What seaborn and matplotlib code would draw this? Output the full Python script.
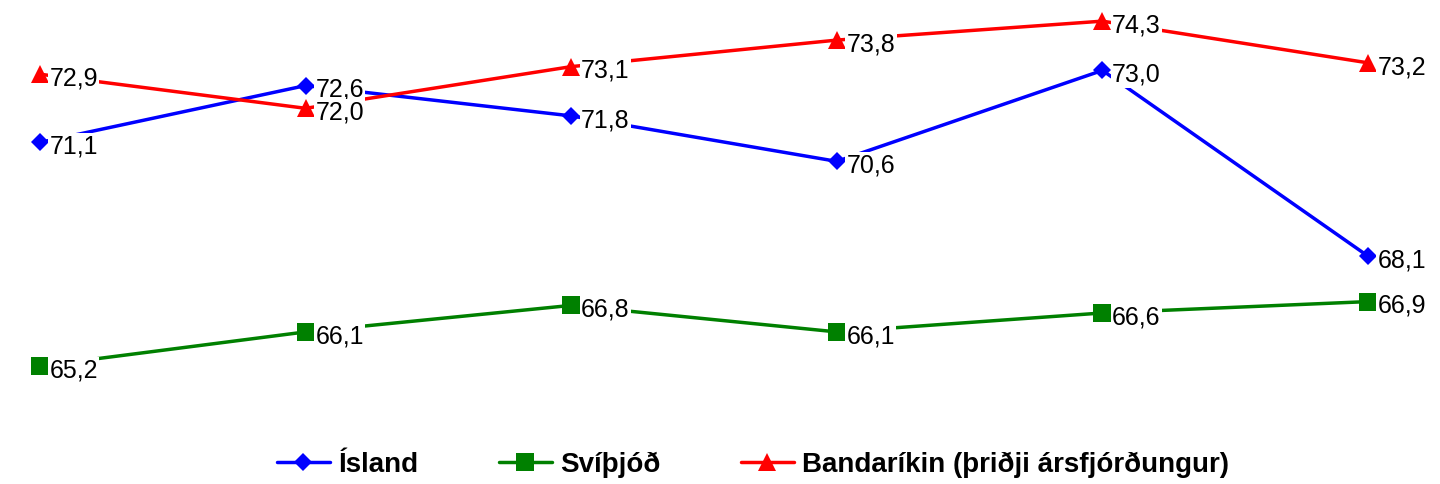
import pandas as pd
import seaborn as sns
import matplotlib.pyplot as plt

# --- data ---
periods = [0, 1, 2, 3, 4, 5]
iceland = [71.1, 72.6, 71.8, 70.6, 73.0, 68.1]
sweden = [65.2, 66.1, 66.8, 66.1, 66.6, 66.9]
usa = [72.9, 72.0, 73.1, 73.8, 74.3, 73.2]

names = ['Ísland', 'Svíþjóð', 'Bandaríkin (þriðji ársfjórðungur)']
series = [iceland, sweden, usa]
colors = {'Ísland': '#0000ff', 'Svíþjóð': '#008000',
          'Bandaríkin (þriðji ársfjórðungur)': '#ff0000'}
markers = {'Ísland': 'D', 'Svíþjóð': 's',
           'Bandaríkin (þriðji ársfjórðungur)': '^'}
msizes = {'Ísland': 9.5, 'Svíþjóð': 12.5,
          'Bandaríkin (þriðji ársfjórðungur)': 12.5}

df = pd.DataFrame({
    'period': periods * 3,
    'value': iceland + sweden + usa,
    'series': [n for n in names for _ in periods],
})

sns.set_style('white')
plt.rcParams['font.family'] = ['Liberation Sans', 'DejaVu Sans']

fig = plt.figure(figsize=(14.4, 4.84), dpi=100)
ax = fig.add_axes([40 / 1440, 1 - 411.5 / 484, 1328 / 1440, 409.3 / 484])

sns.lineplot(data=df, x='period', y='value', hue='series', style='series',
             palette=colors, markers=markers, dashes=False, linewidth=2.5,
             markeredgewidth=0, ax=ax, legend=False, clip_on=False, zorder=2)

# marker sizes per series
for line, n in zip(ax.get_lines(), names):
    line.set_markersize(msizes[n])

# data labels to the right of the markers, on a white box
for vals in series:
    for x, v in zip(periods, vals):
        ax.annotate(f'{v:.1f}'.replace('.', ','), (x, v),
                    xytext=(7, -3), textcoords='offset points',
                    ha='left', va='center', fontsize=18, color='black', zorder=3,
                    bbox=dict(boxstyle='square,pad=0.05', fc='white', ec='none'),
                    annotation_clip=False)

ax.set_xlim(0, 5)
ax.set_ylim(64, 74.8)
ax.set_axis_off()

handles = [plt.Line2D([], [], color=colors[n], marker=markers[n],
                      markersize=msizes[n], markeredgewidth=0, linewidth=2.5)
           for n in names]
leg = fig.legend(handles, names, loc='center',
                 bbox_to_anchor=(753 / 1440, 1 - 465 / 484),
                 ncol=3, frameon=False, prop={'weight': 'bold', 'size': 20},
                 handlelength=1.9, columnspacing=2.9, handletextpad=0.3)
for t in leg.get_texts():
    t.set_color('black')

plt.savefig('out.png', dpi=100)
